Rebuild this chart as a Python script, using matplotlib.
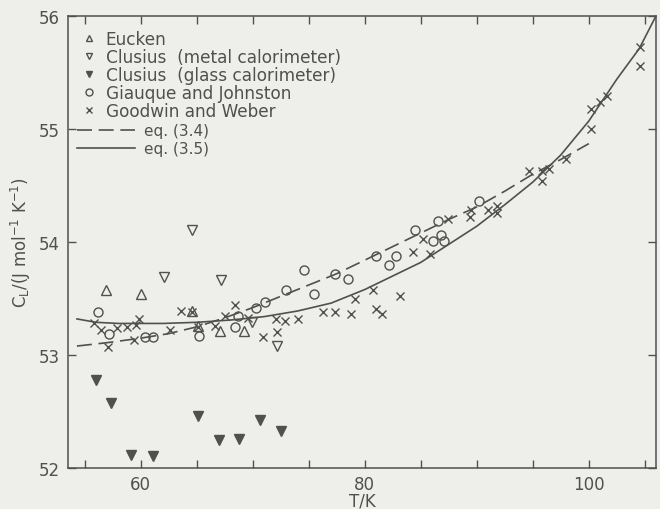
import numpy as np
import matplotlib.pyplot as plt
from matplotlib.lines import Line2D

# Eucken (open up-triangles)
eucken_T = [56.9, 60.0, 64.6, 65.1, 67.05, 69.2]
eucken_C = [53.58, 53.54, 53.39, 53.26, 53.21, 53.21]

# Clusius, metal calorimeter (open down-triangles)
clus_metal_T = [62.1, 64.6, 67.2, 69.9, 72.2]
clus_metal_C = [53.69, 54.11, 53.66, 53.29, 53.08]

# Clusius, glass calorimeter (filled down-triangles)
clus_glass_T = [56.0, 57.35, 59.1, 61.1, 65.1, 67.0, 68.8, 70.65, 72.5]
clus_glass_C = [52.78, 52.58, 52.12, 52.11, 52.46, 52.25, 52.26, 52.43, 52.33]

# Giauque and Johnston (open circles)
giauque_T = [56.2, 57.2, 60.4, 61.1, 65.2, 68.4, 68.7, 70.3, 71.1, 73.0, 74.6, 75.5,
             77.3, 78.5, 81.0, 82.2, 82.8, 84.5, 86.1, 86.5, 86.8, 87.1, 90.2]
giauque_C = [53.38, 53.19, 53.16, 53.16, 53.17, 53.25, 53.35, 53.42, 53.47, 53.58, 53.75, 53.54,
             53.72, 53.67, 53.88, 53.80, 53.88, 54.11, 54.01, 54.19, 54.06, 54.01, 54.36]

# Goodwin and Weber (crosses)
goodwin_T = [55.8, 56.45, 57.1, 57.9, 58.8, 59.4, 59.6, 59.8, 62.6, 63.6, 64.55, 65.15,
             66.6, 67.5, 68.4, 69.6, 70.9, 72.05, 72.2, 72.9, 74.0, 76.3, 77.3, 78.8,
             79.1, 80.7, 81.0, 81.5, 83.1, 84.3, 85.2, 85.8, 87.4, 89.4, 89.5, 91.0,
             91.8, 91.8, 94.7, 95.8, 95.8, 96.4, 98.0, 100.2, 100.2, 101.0, 101.6,
             104.6, 104.6]
goodwin_C = [53.28, 53.22, 53.07, 53.24, 53.25, 53.13, 53.27, 53.32, 53.22, 53.39, 53.38, 53.25,
             53.26, 53.35, 53.44, 53.33, 53.16, 53.32, 53.20, 53.30, 53.32, 53.38, 53.38, 53.36,
             53.50, 53.58, 53.41, 53.36, 53.52, 53.91, 54.03, 53.89, 54.20, 54.22, 54.28, 54.28,
             54.32, 54.26, 54.63, 54.63, 54.54, 54.65, 54.73, 55.00, 55.18, 55.24, 55.29,
             55.72, 55.56]

# eq. (3.4), dashed
eq34_T = [54.3, 57, 60, 62.5, 65, 67.5, 70, 72.5, 75, 77.5, 80, 82.5, 85, 87.5, 90,
          92.5, 95, 97.5, 100]
eq34_C = [53.08, 53.11, 53.15, 53.19, 53.25, 53.33, 53.42, 53.52, 53.62, 53.72, 53.84,
          53.96, 54.08, 54.20, 54.31, 54.45, 54.60, 54.73, 54.87]

# eq. (3.5), solid
eq35_T = [54.3, 56, 58, 60, 62, 65, 68, 71, 74, 77, 80, 82.5, 85, 87.5, 90, 92.5, 95,
          97.5, 100, 102.5, 104.5, 106]
eq35_C = [53.32, 53.29, 53.28, 53.28, 53.28, 53.29, 53.31, 53.34, 53.39, 53.46, 53.58,
          53.70, 53.82, 53.98, 54.14, 54.33, 54.53, 54.77, 55.07, 55.44, 55.71, 56.0]

xticks = [55, 60, 65, 70, 75, 80, 85, 90, 95, 100, 105]
xticklabels = ['', '60', '', '', '', '80', '', '', '', '100', '']
yticks = [52, 53, 54, 55, 56]

ink = '#505050'
paper = '#eeeeea'
plt.rcParams['font.family'] = 'DejaVu Sans'

fig = plt.figure(figsize=(6.6, 5.1), dpi=100, facecolor=paper)
ax = fig.add_axes([0.103, 0.080, 0.891, 0.887], facecolor=paper)

ms = 6.5
ax.plot(eucken_T, eucken_C, '^', mfc='none', mec=ink, ms=ms, mew=1.0)
ax.plot(clus_metal_T, clus_metal_C, 'v', mfc='none', mec=ink, ms=ms, mew=1.0)
ax.plot(clus_glass_T, clus_glass_C, 'v', mfc=ink, mec=ink, ms=ms, mew=1.0)
ax.plot(giauque_T, giauque_C, 'o', mfc='none', mec=ink, ms=ms, mew=1.0)
ax.plot(goodwin_T, goodwin_C, 'x', color=ink, ms=5.5, mew=1.0)
ax.plot(eq34_T, eq34_C, color=ink, lw=1.2, dashes=(9, 4))
ax.plot(eq35_T, eq35_C, color=ink, lw=1.2)

ax.set_xlim(53.5, 106)
ax.set_ylim(52, 56)
ax.set_xticks(xticks)
ax.set_xticklabels(xticklabels)
ax.set_yticks(yticks)
ax.tick_params(direction='in', top=True, right=True, length=6, width=1,
               color=ink, labelcolor=ink, labelsize=12)
ax.tick_params(axis='x', pad=5)
ax.tick_params(axis='y', pad=6)
for s in ax.spines.values():
    s.set_color(ink)
    s.set_linewidth(1.1)

ax.set_xlabel('T/K', color=ink, fontsize=12, labelpad=-1)
ax.set_ylabel(r'C$_\mathregular{L}$/(J mol$^{-1}$ K$^{-1}$)', color=ink, fontsize=12,
              labelpad=4)

h_markers = [
    Line2D([], [], ls='none', marker='^', mfc='none', mec=ink, ms=5),
    Line2D([], [], ls='none', marker='v', mfc='none', mec=ink, ms=5),
    Line2D([], [], ls='none', marker='v', mfc=ink, mec=ink, ms=5),
    Line2D([], [], ls='none', marker='o', mfc='none', mec=ink, ms=5),
    Line2D([], [], ls='none', marker='x', color=ink, ms=5),
]
l_markers = ['Eucken', 'Clusius  (metal calorimeter)', 'Clusius  (glass calorimeter)',
             'Giauque and Johnston', 'Goodwin and Weber']
leg1 = ax.legend(h_markers, l_markers, loc='upper left', bbox_to_anchor=(0.0235, 0.969),
                 frameon=False, fontsize=12.2, handlelength=0.8, handletextpad=0.6,
                 labelspacing=0.0, borderpad=0, borderaxespad=0, labelcolor=ink)
ax.add_artist(leg1)

h_lines = [Line2D([], [], color=ink, lw=1.2, dashes=(9, 4)),
           Line2D([], [], color=ink, lw=1.2)]
leg2 = ax.legend(h_lines, ['eq. (3.4)', 'eq. (3.5)'], loc='upper left',
                 bbox_to_anchor=(0.015, 0.762), frameon=False, fontsize=11,
                 handlelength=3.8, handletextpad=0.6, labelspacing=0.16,
                 borderpad=0, borderaxespad=0, labelcolor=ink)

fig.savefig('out.png', dpi=100, facecolor=paper)
